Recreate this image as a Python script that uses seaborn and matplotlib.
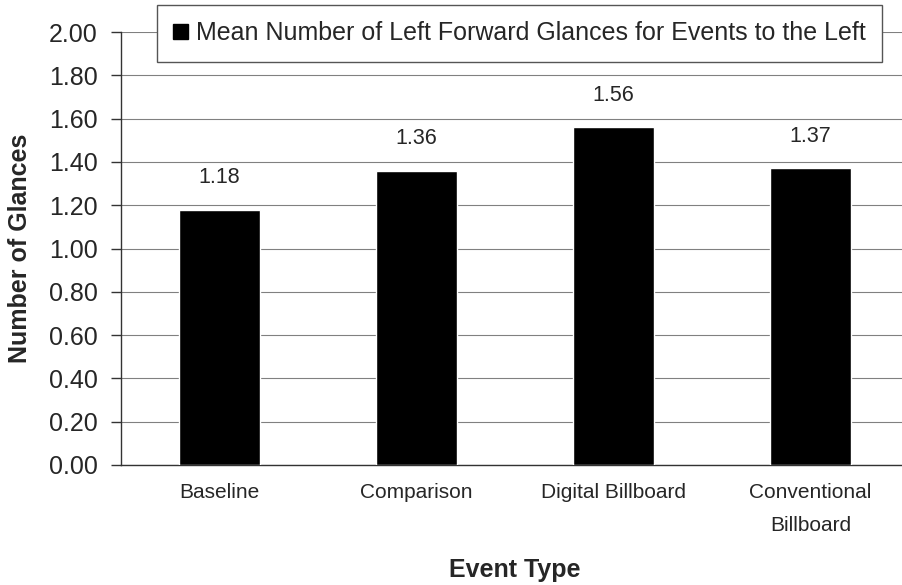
import numpy as np
import pandas as pd
import seaborn as sns
import matplotlib.pyplot as plt
from matplotlib.patches import Patch

# ---------- Datos ----------
categories = ["Baseline", "Comparison", "Digital Billboard", "Conventional\nBillboard"]
glances = [1.18, 1.36, 1.56, 1.37]
series_name = "Mean Number of Left Forward Glances for Events to the Left"
yticks = [0.0, 0.2, 0.4, 0.6, 0.8, 1.0, 1.2, 1.4, 1.6, 1.8, 2.0]

sns.set_theme(style="white")
plt.rcParams["font.family"] = ["Liberation Sans", "DejaVu Sans"]

df = pd.DataFrame({"event": categories, "glances": glances})

fig = plt.figure(figsize=(9.02, 5.85), dpi=100)
# el área de trazado sobresale un poco por la derecha, como en la original
ax = fig.add_axes([121 / 902, 120 / 585, 788 / 902, 433 / 585])

sns.barplot(data=df, x="event", y="glances", color="black", width=0.41,
            saturation=1, ax=ax, zorder=3)

# líneas de cuadrícula grises
ax.set_ylim(0, 2.0)
ax.set_yticks(yticks)
ax.set_yticklabels([f"{v:.2f}" for v in yticks], fontsize=18)
ax.yaxis.grid(True, color="#808080", linewidth=0.8, zorder=0)
ax.set_axisbelow(True)

ax.set_xlim(-0.5, len(categories) - 0.5)
ax.set_xticks(range(len(categories)))
ax.set_xticklabels(categories, fontsize=15, linespacing=1.9)
ax.tick_params(axis="x", which="major", length=0, pad=13)
ax.set_xticks(np.arange(-0.5, len(categories), 1.0), minor=True)
ax.tick_params(axis="x", which="minor", length=6, width=1, color="#333333", direction="out")
ax.tick_params(axis="y", length=7, width=1, color="#333333", direction="out", left=True, pad=10)

for s in ["top", "right"]:
    ax.spines[s].set_visible(False)
for s in ["left", "bottom"]:
    ax.spines[s].set_color("#333333")
    ax.spines[s].set_linewidth(1.0)

# etiquetas de valor
for i, v in enumerate(glances):
    ax.text(i, v + 0.1, f"{v:.2f}", ha="center", va="bottom", fontsize=15.5)

ax.set_ylabel("Number of Glances", fontsize=18, fontweight="bold")
ax.yaxis.set_label_coords(-(121 - 20) / 788, 0.5)
ax.set_xlabel("Event Type", fontsize=18, fontweight="bold")
ax.xaxis.set_label_coords(0.5, -(570 - 465) / 433)
ax.xaxis.label.set_va("center")
ax.yaxis.label.set_va("center")

handle = Patch(facecolor="black", edgecolor="black")
leg = fig.legend([handle], [series_name], loc="upper left",
                 bbox_to_anchor=(157 / 902, 1 - 5 / 585), borderaxespad=0,
                 fontsize=18, frameon=True, fancybox=False, framealpha=1,
                 edgecolor="#555555", borderpad=0.65, handlelength=0.6,
                 handleheight=0.6, handletextpad=0.32)
leg.get_frame().set_linewidth(1.0)

fig.savefig("out.png", dpi=100)
